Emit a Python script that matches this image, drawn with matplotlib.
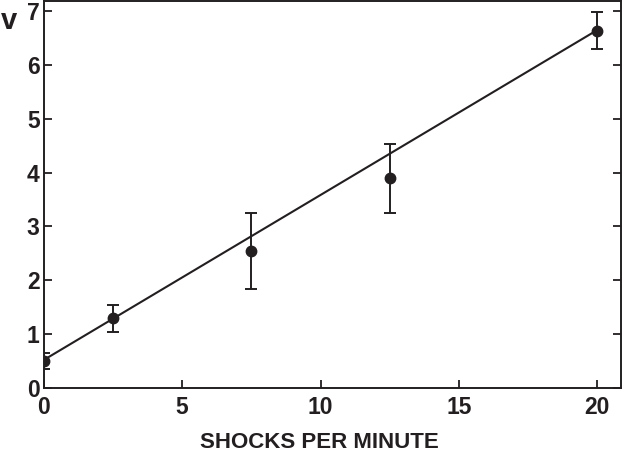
import matplotlib.pyplot as plt

plt.rcParams['font.family'] = ['Liberation Sans', 'DejaVu Sans']
plt.rcParams['font.weight'] = 'bold'

shocks = [0, 2.5, 7.5, 12.5, 20]
v = [0.50, 1.30, 2.55, 3.90, 6.64]
err_low = [0.15, 0.26, 0.71, 0.65, 0.34]
err_high = [0.15, 0.24, 0.70, 0.64, 0.35]
fit_x = [0, 20]
fit_y = [0.52, 6.65]

ink = '#231f20'

fig = plt.figure(figsize=(6.26, 4.57), dpi=100)
ax = fig.add_axes([0.0698, 0.151, 0.922, 0.847])

ax.plot(fit_x, fit_y, color=ink, lw=1.5, zorder=2)
ax.errorbar(shocks, v, yerr=[err_low, err_high], fmt='o', color=ink,
            ms=7.5, elinewidth=1.4, capsize=4.5, capthick=1.4, zorder=3)

ax.set_xlim(0, 20.85)
ax.set_ylim(0, 7.19)
ax.set_xticks([0, 5, 10, 15, 20])
ax.set_yticks(range(0, 8))

for s in ax.spines.values():
    s.set_linewidth(1.4)
    s.set_color(ink)

ax.tick_params(axis='both', direction='in', length=6, width=1.3, color=ink,
               labelsize=16.5, labelcolor=ink)
ax.tick_params(axis='y', right=True, pad=3)
ax.tick_params(axis='x', pad=6)

ax.set_xlabel('SHOCKS PER MINUTE', fontsize=16, fontweight='bold', color=ink)
ax.xaxis.set_label_coords(0.478, -0.113)
fig.text(0.0144, 0.953, 'v', fontsize=21, fontweight='bold', color=ink, ha='center', va='center')

fig.savefig('out.png', dpi=100)
